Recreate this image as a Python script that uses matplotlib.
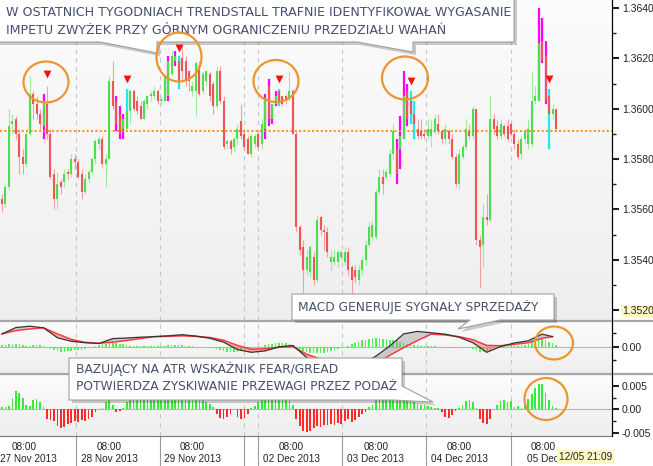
import numpy as np
import matplotlib
matplotlib.use("Agg")
import matplotlib.pyplot as plt
from matplotlib.patches import Polygon, Ellipse
from matplotlib.lines import Line2D
from matplotlib.colors import LinearSegmentedColormap
from matplotlib.transforms import blended_transform_factory

plt.rcParams['font.family'] = ['DejaVu Sans']

# EURUSD H1, 27 Nov - 05 Dec 2013
opens = [
    1.3564, 1.3562, 1.3569, 1.3594, 1.3596, 1.3590, 1.3581, 1.3578, 1.3590, 1.3606, 1.3602, 1.3598,
    1.3593, 1.3602, 1.3590, 1.3574, 1.3564, 1.3571, 1.3571, 1.3575, 1.3574, 1.3580, 1.3579, 1.3574,
    1.3567, 1.3572, 1.3575, 1.3580, 1.3586, 1.3588, 1.3578, 1.3580, 1.3611, 1.3603, 1.3598, 1.3592,
    1.3592, 1.3599, 1.3607, 1.3603, 1.3601, 1.3596, 1.3602, 1.3605, 1.3605, 1.3607, 1.3603, 1.3603,
    1.3605, 1.3614, 1.3619, 1.3619, 1.3620, 1.3619, 1.3615, 1.3607, 1.3607, 1.3617, 1.3607, 1.3611,
    1.3614, 1.3610, 1.3601, 1.3615, 1.3603, 1.3586, 1.3587, 1.3585, 1.3588, 1.3595, 1.3590, 1.3588,
    1.3582, 1.3586, 1.3590, 1.3586, 1.3592, 1.3609, 1.3596, 1.3602, 1.3607, 1.3605, 1.3605, 1.3604,
    1.3607, 1.3590, 1.3553, 1.3545, 1.3536, 1.3535, 1.3541, 1.3532, 1.3557, 1.3552, 1.3551, 1.3539,
    1.3539, 1.3539, 1.3541, 1.3539, 1.3543, 1.3537, 1.3536, 1.3532, 1.3536, 1.3540, 1.3546, 1.3549,
    1.3549, 1.3567, 1.3573, 1.3573, 1.3574, 1.3582, 1.3584, 1.3584, 1.3588, 1.3607, 1.3603, 1.3598,
    1.3592, 1.3591, 1.3590, 1.3589, 1.3589, 1.3591, 1.3594, 1.3591, 1.3588, 1.3591, 1.3588, 1.3581,
    1.3570, 1.3581, 1.3585, 1.3591, 1.3589, 1.3600, 1.3548, 1.3546, 1.3557, 1.3556, 1.3596, 1.3593,
    1.3589, 1.3593, 1.3593, 1.3594, 1.3590, 1.3586, 1.3582, 1.3588, 1.3586, 1.3586, 1.3603, 1.3603,
    1.3627, 1.3621, 1.3605, 1.3598, 1.3600]
highs = [
    1.3566, 1.3570, 1.3600, 1.3598, 1.3597, 1.3592, 1.3584, 1.3592, 1.3613, 1.3607, 1.3605, 1.3600,
    1.3606, 1.3609, 1.3592, 1.3576, 1.3575, 1.3572, 1.3576, 1.3576, 1.3582, 1.3582, 1.3580, 1.3576,
    1.3574, 1.3576, 1.3581, 1.3588, 1.3589, 1.3589, 1.3582, 1.3613, 1.3619, 1.3605, 1.3601, 1.3598,
    1.3608, 1.3608, 1.3608, 1.3605, 1.3603, 1.3604, 1.3605, 1.3607, 1.3609, 1.3608, 1.3605, 1.3613,
    1.3621, 1.3623, 1.3623, 1.3621, 1.3625, 1.3621, 1.3615, 1.3611, 1.3619, 1.3619, 1.3615, 1.3615,
    1.3615, 1.3611, 1.3617, 1.3617, 1.3605, 1.3588, 1.3588, 1.3589, 1.3594, 1.3602, 1.3592, 1.3589,
    1.3590, 1.3590, 1.3591, 1.3596, 1.3606, 1.3612, 1.3602, 1.3607, 1.3608, 1.3605, 1.3606, 1.3615,
    1.3608, 1.3591, 1.3554, 1.3548, 1.3544, 1.3546, 1.3543, 1.3558, 1.3558, 1.3554, 1.3553, 1.3544,
    1.3544, 1.3544, 1.3544, 1.3545, 1.3545, 1.3538, 1.3538, 1.3538, 1.3541, 1.3548, 1.3555, 1.3556,
    1.3568, 1.3576, 1.3576, 1.3576, 1.3584, 1.3594, 1.3588, 1.3597, 1.3615, 1.3610, 1.3607, 1.3603,
    1.3596, 1.3596, 1.3592, 1.3596, 1.3596, 1.3598, 1.3598, 1.3592, 1.3594, 1.3592, 1.3590, 1.3582,
    1.3584, 1.3586, 1.3596, 1.3594, 1.3601, 1.3600, 1.3550, 1.3562, 1.3566, 1.3605, 1.3598, 1.3596,
    1.3596, 1.3594, 1.3596, 1.3595, 1.3592, 1.3588, 1.3589, 1.3592, 1.3596, 1.3615, 1.3609, 1.3640,
    1.3636, 1.3627, 1.3608, 1.3602, 1.3600]
lows = [
    1.3559, 1.3561, 1.3568, 1.3590, 1.3588, 1.3574, 1.3574, 1.3577, 1.3589, 1.3596, 1.3596, 1.3592,
    1.3588, 1.3588, 1.3572, 1.3560, 1.3560, 1.3566, 1.3569, 1.3572, 1.3573, 1.3576, 1.3572, 1.3564,
    1.3566, 1.3571, 1.3574, 1.3578, 1.3584, 1.3577, 1.3569, 1.3580, 1.3600, 1.3591, 1.3588, 1.3588,
    1.3592, 1.3594, 1.3599, 1.3598, 1.3596, 1.3596, 1.3600, 1.3603, 1.3604, 1.3602, 1.3602, 1.3603,
    1.3603, 1.3613, 1.3617, 1.3608, 1.3612, 1.3609, 1.3607, 1.3605, 1.3597, 1.3605, 1.3606, 1.3609,
    1.3603, 1.3598, 1.3600, 1.3602, 1.3584, 1.3584, 1.3582, 1.3583, 1.3586, 1.3588, 1.3584, 1.3582,
    1.3581, 1.3585, 1.3584, 1.3584, 1.3588, 1.3593, 1.3594, 1.3601, 1.3601, 1.3601, 1.3602, 1.3603,
    1.3590, 1.3551, 1.3542, 1.3527, 1.3534, 1.3533, 1.3530, 1.3531, 1.3550, 1.3544, 1.3541, 1.3536,
    1.3538, 1.3537, 1.3540, 1.3538, 1.3534, 1.3526, 1.3531, 1.3530, 1.3534, 1.3538, 1.3545, 1.3548,
    1.3548, 1.3566, 1.3566, 1.3572, 1.3573, 1.3580, 1.3570, 1.3576, 1.3588, 1.3593, 1.3594, 1.3588,
    1.3588, 1.3588, 1.3588, 1.3588, 1.3585, 1.3590, 1.3590, 1.3586, 1.3586, 1.3586, 1.3580, 1.3569,
    1.3568, 1.3580, 1.3584, 1.3588, 1.3588, 1.3546, 1.3529, 1.3537, 1.3554, 1.3555, 1.3590, 1.3588,
    1.3588, 1.3589, 1.3587, 1.3589, 1.3584, 1.3580, 1.3580, 1.3586, 1.3584, 1.3585, 1.3602, 1.3603,
    1.3618, 1.3602, 1.3584, 1.3596, 1.3591]
closes = [
    1.3562, 1.3569, 1.3593, 1.3595, 1.3590, 1.3581, 1.3578, 1.3590, 1.3606, 1.3602, 1.3598, 1.3594,
    1.3603, 1.3590, 1.3573, 1.3564, 1.3570, 1.3569, 1.3574, 1.3574, 1.3580, 1.3579, 1.3573, 1.3567,
    1.3572, 1.3575, 1.3580, 1.3587, 1.3588, 1.3578, 1.3580, 1.3611, 1.3601, 1.3594, 1.3590, 1.3596,
    1.3599, 1.3607, 1.3600, 1.3599, 1.3596, 1.3603, 1.3605, 1.3606, 1.3607, 1.3603, 1.3604, 1.3613,
    1.3619, 1.3621, 1.3621, 1.3611, 1.3615, 1.3611, 1.3611, 1.3609, 1.3618, 1.3606, 1.3614, 1.3615,
    1.3605, 1.3601, 1.3615, 1.3603, 1.3585, 1.3587, 1.3584, 1.3588, 1.3592, 1.3589, 1.3585, 1.3582,
    1.3589, 1.3589, 1.3585, 1.3594, 1.3604, 1.3596, 1.3602, 1.3605, 1.3603, 1.3602, 1.3603, 1.3607,
    1.3590, 1.3553, 1.3544, 1.3536, 1.3541, 1.3545, 1.3532, 1.3556, 1.3552, 1.3551, 1.3543, 1.3541,
    1.3541, 1.3543, 1.3543, 1.3543, 1.3536, 1.3532, 1.3533, 1.3536, 1.3540, 1.3546, 1.3553, 1.3554,
    1.3567, 1.3573, 1.3570, 1.3575, 1.3582, 1.3591, 1.3574, 1.3589, 1.3605, 1.3596, 1.3598, 1.3594,
    1.3589, 1.3589, 1.3589, 1.3592, 1.3592, 1.3596, 1.3591, 1.3588, 1.3592, 1.3588, 1.3581, 1.3570,
    1.3582, 1.3585, 1.3592, 1.3589, 1.3600, 1.3548, 1.3545, 1.3557, 1.3556, 1.3596, 1.3592, 1.3589,
    1.3594, 1.3590, 1.3588, 1.3590, 1.3586, 1.3581, 1.3588, 1.3591, 1.3592, 1.3603, 1.3605, 1.3626,
    1.3619, 1.3603, 1.3598, 1.3600, 1.3592]

# TrendStall bars
magenta_bars = [12, 33, 34, 35, 48, 50, 76, 77, 78, 79, 114, 115, 116, 117, 155, 156, 157]
cyan_bars = [36, 51, 80, 118, 119, 158]
signal_bars = [13, 36, 51, 80, 118, 158]
signal_prices = [1.3614, 1.3612, 1.3624, 1.3612, 1.3611, 1.3612]
range_level = 1.3591

# MACD lines (read every 4 bars)
macd_pos = [0, 4, 8, 12, 16, 20, 24, 28, 32, 36, 40, 44, 48, 52, 56, 60, 64, 68, 72, 76,
            80, 84, 88, 92, 96, 100, 104, 108, 112, 116, 120, 124, 128, 132, 136, 140, 144,
            148, 152, 156, 159]
macd_main = [4.6, 6.9, 7.4, 6.8, 3.2, 1.9, 1.4, 1.1, 2.9, 3.1, 3.4, 3.6, 3.9, 4.3, 3.8, 3.0,
             1.6, -1.1, -2.1, -1.6, -0.1, 0.4, -4.0, -7.1, -8.6, -7.9, -6.4, -3.5, 0.2, 4.6,
             5.5, 5.0, 4.5, 3.4, 1.4, -2.1, 0.0, 1.3, 2.1, 4.5, 3.6]
macd_signal = [4.6, 5.8, 6.4, 6.8, 4.6, 2.6, 1.5, 1.2, 1.6, 2.2, 2.9, 3.6, 3.7, 3.9, 3.7, 3.3,
               2.3, 0.4, -1.0, -0.8, -0.3, 0.0, -2.8, -4.6, -6.8, -8.2, -8.0, -6.2, -3.2, -0.4,
               2.2, 4.5, 4.2, 3.6, 2.5, 0.4, 0.3, 0.8, 1.4, 3.0, 3.6]
macd_hist = [
    0.5, 0.5, 1.0, 1.1, 1.1, 0.9, 0.4, 0.3, 0.3, 0.5, 0.6, 0.4, 0.2,
    -0.6, -1.0, -1.4, -1.8, -2.1, -2.1, -1.8, -1.6, -1.4, -1.4, -1.1, -0.9, -0.5,
    -0.2, 0.1, 0.4, 0.8, 1.1, 1.3, 1.4, 1.2, 1.0, 0.8,
    0.4, 0.3, 0.3, 0.2, 0.2, 0.3, 0.3, 0.2, 0.1, 0.1, 0.2, 0.3, 0.4, 0.4, 0.5, 0.5, 0.4, 0.3, 0.2, 0.1, 0.0,
    -0.2, -0.3, -0.3, -0.4, -0.6, -0.8,
    -1.2, -1.6, -2.0, -2.1, -2.1, -1.9, -1.6, -1.2, -1.0, -0.9, -0.7, -0.5,
    0.0, 0.4, 0.8, 1.1, 1.3, 1.4, 1.4, 1.2, 0.9, 0.5,
    -0.4, -1.0, -1.6, -2.0, -2.3, -2.5, -2.5, -2.4, -2.2, -2.0, -1.7, -1.3, -0.9, -0.5, -0.1,
    0.3, 0.8, 1.3, 1.8, 2.2, 2.5, 2.8, 3.0, 3.1, 3.0, 2.9, 2.7, 2.5, 2.2, 2.0, 1.7, 1.4, 1.1, 0.9, 0.7, 0.5,
    0.3, 0.2, 0.2, 0.1, 0.1, 0.0,
    -0.2, -0.4, -0.5, -0.5, -0.6, -0.6, -0.4, -0.2,
    -0.4, -0.9, -1.6, -2.1, -2.1, -1.8, -1.2, -0.6, -0.2, 0.1,
    0.3, 0.4, 0.4, 0.3, 0.3, 0.4, 0.6,
    1.0, 1.5, 2.1, 2.5, 2.6, 2.3, 1.8, 1.2, 0.6]

# ATR fear/greed (x 0.001)
fear_greed = [
    0.5, 0.6, 0.8, 2.5, 4.0, 3.5, 2.4, 1.0, 0.8, 2.0, 2.3, 1.5, 0.6,
    -2.0, -2.2, -2.5, -3.5, -4.0, -3.8, -3.0, -2.8, -2.5, -2.6, -2.2, -2.5, -2.0, -1.5,
    -0.5, 0.0, 0.3, 1.5, 2.0, 1.0, -0.6, -0.3, 0.3,
    1.5, 2.2, 2.8, 3.0, 2.6, 2.4, 2.8, 3.2, 3.0, 2.7, 2.5, 2.9, 3.3, 3.6, 3.2, 2.8, 2.6,
    3.0, 2.7, 2.4, 2.2, 2.5, 2.0, 1.6, 1.2, 0.6,
    -1.0, -1.8, -2.0, -1.6, -1.0, 0.0, -1.5, -2.0, -1.8, -1.0, 0.2, 0.8, 1.5,
    2.2, 2.8, 3.2, 3.5, 3.3, 3.0, 2.8, 2.5, 2.0, 1.0,
    -2.0, -3.5, -4.5, -4.8, -4.5, -4.0, -3.6, -3.8, -3.2, -3.4, -3.0, -3.3, -2.8, -3.0,
    -2.5, -2.0, -2.6, -2.3, -1.5, -1.0, -0.5, 0.5,
    1.0, 2.0, 3.0, 3.5, 4.5, 5.5, 5.6, 5.4, 5.0, 3.8, 3.0, 2.2, 1.6, 1.2, 1.0, 0.9, 0.8, 0.6, 0.4, 0.2,
    -0.5, -1.5, -1.9, -1.2, -0.4, 0.3, 1.0, 1.8, 2.0, 1.5, 0.2,
    -2.0, -2.8, -3.0, -2.0, 0.0, 1.0, 1.8, 2.0, 1.5, 1.8, 0.5, 0.8, 0.4,
    1.0, 2.2, 3.2, 4.5, 5.3, 5.3, 3.5, 2.0, 0.8, 0.4]

day_breaks = [21.4, 45.6, 69.9, 73.9, 98.2, 122.5, 147.0]
date_pos = [6.35, 30.9, 54.9, 83.5, 108.0, 132.0, 156.3]
date_labels = ['27 Nov 2013', '28 Nov 2013', '29 Nov 2013', '02 Dec 2013',
               '03 Dec 2013', '04 Dec 2013', '05 Dec']
price_ticks = [1.3520, 1.3540, 1.3560, 1.3580, 1.3600, 1.3620, 1.3640]

W, H = 653, 466
fig = plt.figure(figsize=(W / 100, H / 100), dpi=100)
fig.patch.set_facecolor('white')


def fxy(x, y):
    return (x / W, 1 - y / H)


def panel(top, bottom):
    return fig.add_axes([0, 1 - bottom / H, 612 / W, (bottom - top) / H])


ax1 = panel(0, 320)
ax2 = panel(322, 373)
ax3 = panel(375, 436)

axis_font = ['Liberation Sans', 'DejaVu Sans']
bg = LinearSegmentedColormap.from_list('bg', ['#eeeeee', '#fcfcfc'])
grad = np.linspace(0, 1, 64).reshape(-1, 1)
xmin, xmax = -0.58, 176.17
for ax in (ax1, ax2, ax3):
    ax.imshow(grad, extent=[0, 1, 0, 1], transform=ax.transAxes, cmap=bg,
              aspect='auto', origin='lower', zorder=0)
    for s in ('left', 'top', 'bottom'):
        ax.spines[s].set_visible(False)
    ax.spines['right'].set_color('black')
    ax.yaxis.tick_right()
    ax.set_xticks([])
    ax.tick_params(axis='y', which='major', length=5, width=1.5, pad=2,
                   labelsize=7.5, colors='#222222')
    ax.tick_params(axis='y', which='minor', length=3, width=1, colors='#222222')
    for b in day_breaks:
        ax.axvline(b, color='#c4c6d0', lw=0.8, dashes=(4, 4), zorder=1)

# candles
idx = np.arange(len(closes))
o, h, l, c = (np.array(v) for v in (opens, highs, lows, closes))
up = c >= o
lo = np.minimum(o, c)
hi = np.maximum(np.maximum(o, c), lo + 0.00004)
ax1.vlines(idx, l, h, colors=np.where(up, '#9fec9f', '#f2a0a0'), lw=0.8, zorder=2)
ax1.vlines(magenta_bars, l[magenta_bars], h[magenta_bars], colors='#ff00ff', lw=1.6, zorder=3)
ax1.vlines(cyan_bars, l[cyan_bars], h[cyan_bars], colors='#22e8f0', lw=1.6, zorder=3)
ax1.vlines(idx, lo, hi, colors=np.where(up, '#4cde4c', '#ec5656'), lw=1.5, zorder=4)
ax1.scatter(signal_bars, signal_prices, marker='v', s=32, color='#ff1010', lw=0, zorder=5)
ax1.axhline(range_level, color='#ff8a10', lw=1.3, dashes=(1.2, 1.2), zorder=3)

ax1.set_ylim(1.35161, 1.36432)
ax1.set_yticks(price_ticks, [f'{t:.4f}' for t in price_ticks])
ax1.set_yticks([1.3530, 1.3550, 1.3570, 1.3590, 1.3610, 1.3630], minor=True)

# MACD panel
mm = np.array(macd_main) * 1e-4
ms = np.array(macd_signal) * 1e-4
ax2.bar(idx, np.array(macd_hist) * 1e-4, width=0.45, color='#55ee55', zorder=2)
ax2.axhline(0, color='#b8b8b8', lw=0.8, zorder=1)
ax2.fill_between(macd_pos, mm, ms, where=mm >= ms, interpolate=True,
                 color='#9a9a9a', alpha=0.45, lw=0, zorder=3)
ax2.fill_between(macd_pos, mm, ms, where=mm < ms, interpolate=True,
                 color='#ff6a6a', alpha=0.5, lw=0, zorder=3)
ax2.plot(macd_pos, ms, color='#ff3a3a', lw=1.1, zorder=4)
ax2.plot(macd_pos, mm, color='#333333', lw=0.9, zorder=5)
ax2.set_ylim(-0.000964, 0.000893)
ax2.set_yticks([0.0], ['0.00'])
ax2.set_yticks([-0.0005, 0.0005], minor=True)

# fear / greed panel
fg = np.array(fear_greed) * 1e-3
ax3.bar(idx, fg, width=0.5, color=np.where(fg >= 0, '#33ee33', '#ff2a2a'), zorder=2)
ax3.axhline(0, color='#b8b8b8', lw=0.8, zorder=1)
ax3.set_ylim(-0.005625, 0.00729)
ax3.set_yticks([-0.005, 0.0, 0.005], ['-0.005', '0.00', '0.005'])
ax3.set_yticks([-0.0025, 0.0025], minor=True)

for ax in (ax1, ax2, ax3):
    ax.set_xlim(xmin, xmax)
    for t in ax.yaxis.get_major_ticks():
        t.label2.set_family(axis_font)
ax1.yaxis.get_major_ticks()[0].label2.set_bbox(
    dict(facecolor='#fdf9c4', edgecolor='none', pad=0.6))

# date axis
trans = blended_transform_factory(ax3.transData, fig.transFigure)
ax3.vlines(day_breaks, 1 - 466 / H, 1 - 436 / H, transform=trans, colors='#9a9a9a',
           lw=0.8, clip_on=False)
for p, d in zip(date_pos, date_labels):
    ax3.text(p, 1 - 447 / H, '08:00', transform=trans, ha='center', va='center',
             fontsize=7.2, family=axis_font, color='#222222', clip_on=False)
    ax3.text(max(p, 26 / 3.4625), 1 - 459 / H, d, transform=trans, ha='center', va='center',
             fontsize=7.2, family=axis_font, color='#222222', clip_on=False)
fig.text(559 / W, 1 - 457 / H, '12/05 21:09', fontsize=7.2, family=axis_font, va='center',
         color='#222222', bbox=dict(facecolor='#fdf9c4', edgecolor='none', pad=1.2), zorder=20)

# panel separators
for y, x1, col, lw in ((321, 653, '#a6a6a6', 1.6), (374, 653, '#a6a6a6', 1.6),
                       (436, 612, '#777777', 0.8)):
    fig.add_artist(Line2D([0, x1 / W], [1 - y / H] * 2, color=col, lw=lw,
                          transform=fig.transFigure, zorder=6))
fig.add_artist(Line2D([612 / W] * 2, [1 - 436 / H, 1], color='black', lw=0.8,
                      transform=fig.transFigure, zorder=6))


def callout(pts, z=10):
    shadow = [fxy(x + 3, y + 3) for x, y in pts]
    fig.add_artist(Polygon(shadow, closed=True, transform=fig.transFigure,
                           facecolor='black', alpha=0.2, edgecolor='none', zorder=z))
    fig.add_artist(Polygon([fxy(x, y) for x, y in pts], closed=True, transform=fig.transFigure,
                           facecolor='white', edgecolor='#a0a0a0', lw=0.8, zorder=z + 1))


txt = dict(fontsize=8.8, color='#46506e', va='center', zorder=12)
callout([(-3, -3), (514, -3), (514, 42), (413, 42), (413, 52), (357, 42),
         (157, 42), (157, 53), (100, 42), (-3, 42)])
fig.text(*fxy(6, 12), 'W OSTATNICH TYGODNIACH TRENDSTALL TRAFNIE IDENTYFIKOWAŁ WYGASANIE',
         **dict(txt, fontsize=9.1))
fig.text(*fxy(6, 30), 'IMPETU ZWYŻEK PRZY GÓRNYM OGRANICZENIU PRZEDZIAŁU WAHAŃ',
         **dict(txt, fontsize=9.1))

callout([(292, 294), (554, 294), (554, 320), (500, 320), (458, 329), (470, 320), (292, 320)])
fig.text(*fxy(298, 307), 'MACD GENERUJE SYGNAŁY SPRZEDAŻY', **txt)

callout([(69, 358), (402, 358), (402, 386), (433, 402), (392, 400), (69, 400)])
fig.text(*fxy(76, 369), 'BAZUJĄCY NA ATR WSKAŹNIK FEAR/GREAD', **txt)
fig.text(*fxy(76, 387), 'POTWIERDZA ZYSKIWANIE PRZEWAGI PRZEZ PODAŻ', **txt)

# orange rings
for cx, cy, w, hgt in ((46, 82, 45, 41), (179, 57, 45, 49), (276, 81, 45, 42),
                       (405, 78, 46, 43), (554, 343, 38, 33), (546, 399, 43, 42)):
    fig.add_artist(Ellipse(fxy(cx, cy), w / W, hgt / H, transform=fig.transFigure,
                           fill=False, edgecolor='#ec9632', lw=1.6, zorder=13))

fig.savefig('out.png', dpi=100, facecolor=fig.get_facecolor())
